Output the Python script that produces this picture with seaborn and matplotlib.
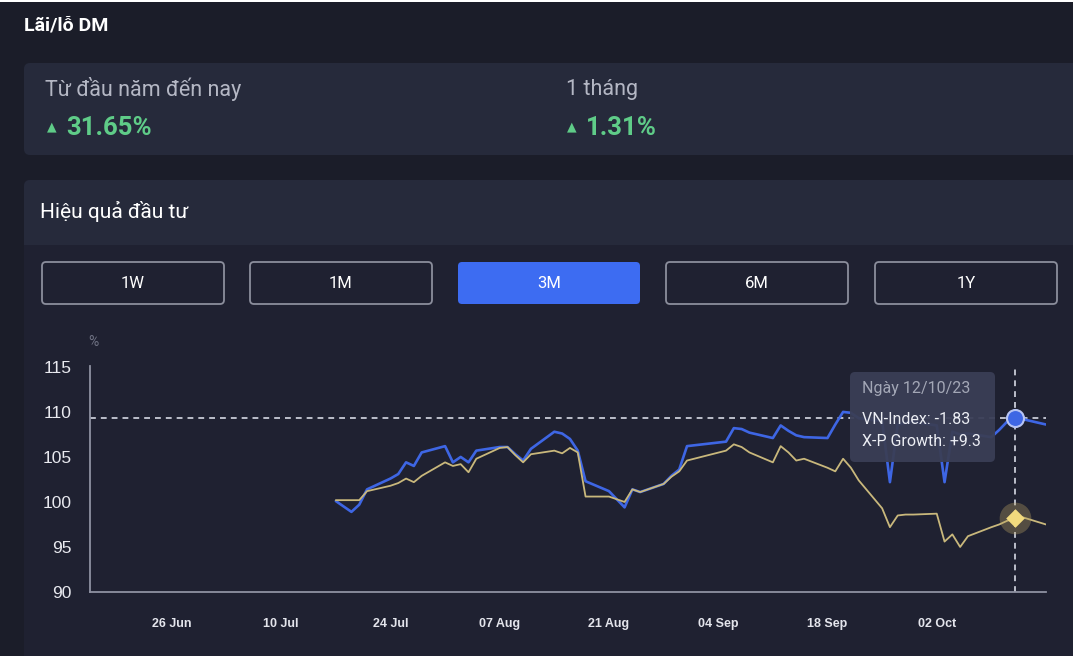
import pandas as pd
import matplotlib
matplotlib.use("Agg")
import matplotlib.pyplot as plt
import matplotlib.transforms as mtransforms
from matplotlib.patches import FancyBboxPatch, Rectangle
import seaborn as sns

# values (index = 100 at start)
dates = [
    "2023-07-17", "2023-07-18", "2023-07-19", "2023-07-20", "2023-07-21",
    "2023-07-24", "2023-07-25", "2023-07-26", "2023-07-27", "2023-07-28",
    "2023-07-31", "2023-08-01", "2023-08-02", "2023-08-03", "2023-08-04",
    "2023-08-07", "2023-08-08", "2023-08-09", "2023-08-10", "2023-08-11",
    "2023-08-14", "2023-08-15", "2023-08-16", "2023-08-17", "2023-08-18",
    "2023-08-21", "2023-08-22", "2023-08-23", "2023-08-24", "2023-08-25",
    "2023-08-28", "2023-08-29", "2023-08-30", "2023-08-31",
    "2023-09-05", "2023-09-06", "2023-09-07", "2023-09-08",
    "2023-09-11", "2023-09-12", "2023-09-13", "2023-09-14", "2023-09-15",
    "2023-09-18", "2023-09-19", "2023-09-20", "2023-09-21", "2023-09-22",
    "2023-09-25", "2023-09-26", "2023-09-27", "2023-09-28", "2023-09-29",
    "2023-10-02", "2023-10-03", "2023-10-04", "2023-10-05", "2023-10-06",
    "2023-10-09", "2023-10-10", "2023-10-11", "2023-10-12", "2023-10-13",
    "2023-10-16",
]
xp_growth = [
    100.1, 99.5, 98.9, 99.7, 101.4,
    102.6, 103.1, 104.4, 104.0, 105.5,
    106.2, 104.4, 105.0, 104.4, 105.7,
    106.1, 106.1, 105.3, 104.6, 105.9,
    107.8, 107.6, 107.0, 105.7, 102.3,
    101.2, 100.3, 99.4, 101.4, 101.1,
    102.0, 102.9, 103.6, 106.2,
    106.7, 108.2, 108.1, 107.7,
    107.1, 108.5, 107.9, 107.4, 107.2,
    107.1, 108.6, 110.0, 109.9, 109.3,
    109.0, 102.2, 108.6, 108.8, 108.9,
    108.5, 102.2, 107.8, 107.5, 107.6,
    107.2, 108.0, 108.9, 109.3, 109.2,
    108.6,
]
vn_index = [
    100.2, 100.2, 100.2, 100.2, 101.2,
    101.8, 102.1, 102.6, 102.2, 102.9,
    104.4, 104.0, 104.2, 103.3, 104.8,
    106.0, 106.1, 105.2, 104.4, 105.3,
    105.7, 105.4, 106.0, 105.5, 100.6,
    100.6, 100.3, 100.0, 101.4, 101.1,
    102.0, 102.8, 103.4, 104.6,
    105.7, 106.4, 106.1, 105.5,
    104.4, 106.2, 105.5, 104.6, 104.8,
    103.8, 103.4, 104.8, 103.8, 102.4,
    99.3, 97.2, 98.5, 98.6, 98.6,
    98.7, 95.6, 96.4, 95.0, 96.2,
    97.2, 97.5, 97.9, 98.17, 98.3,
    97.5,
]

y_ticks = [90, 95, 100, 105, 110, 115]
x_tick_start = "2023-06-26"
periods = ["1W", "1M", "3M", "6M", "1Y"]
active_period = "3M"
ytd_change = "31.65%"
month_change = "1.31%"
focus_date = "2023-10-12"

BG = "#1b1d29"
PANEL = "#262a3b"
CHART_BG = "#1f2131"
BLUE = "#3e66e4"
GOLD = "#c9b87c"
GREEN = "#5fcc88"
MUTED = "#b4b7c4"
AXIS = "#8e91a1"

sns.set_theme(style="dark")
plt.rcParams["font.family"] = ["Roboto", "DejaVu Sans"]

W, H = 1076, 656
fig = plt.figure(figsize=(W / 100, H / 100), dpi=100, facecolor=BG)
# pixel coordinates, origin top-left
T = mtransforms.Affine2D().scale(1 / W, -1 / H).translate(0, 1) + fig.transFigure


def rbox(x0, y0, x1, y1, fc, ec="none", lw=0, r=6, z=-1, alpha=1):
    fig.add_artist(FancyBboxPatch((x0, y0), x1 - x0, y1 - y0,
                                  boxstyle=f"round,pad=0,rounding_size={r}",
                                  transform=T, fc=fc, ec=ec, lw=lw, zorder=z, alpha=alpha))


def label(x, y, s, size, color="white", weight="normal", ha="left", z=3, **kw):
    fig.text(x, y, s, transform=T, fontsize=size, color=color, fontweight=weight,
             ha=ha, va="center", zorder=z, **kw)


# header
label(24, 25, "Lãi/lỗ DM", 14, weight="bold")

# summary card
rbox(24, 63, 1090, 155, PANEL)
label(45, 89, "Từ đầu năm đến nay", 15.5, color=MUTED)
label(47, 127, "▲", 9, color=GREEN, family=["DejaVu Sans"])
label(66, 128, ytd_change, 18.5, color=GREEN, weight="bold")
label(566, 89, "1 tháng", 15.5, color=MUTED)
label(567, 127, "▲", 9, color=GREEN, family=["DejaVu Sans"])
label(586, 128, month_change, 18.5, color=GREEN, weight="bold")

# performance card
rbox(24, 180, 1090, 700, CHART_BG)
rbox(24, 180, 1090, 260, PANEL, z=-0.9)
fig.add_artist(Rectangle((24, 245), 1066, 20, transform=T, fc=CHART_BG, ec="none", zorder=-0.8))
label(40, 211, "Hiệu quả đầu tư", 15)

# period buttons
btn_x = [42, 250, 458, 666, 875]
for bx, p in zip(btn_x, periods):
    if p == active_period:
        rbox(bx, 262, bx + 182, 304, "#3d6cf2", r=4, z=1)
    else:
        rbox(bx, 262, bx + 182, 304, "none", ec="#8b8e9c", lw=1.3, r=4, z=1)
    label(bx + 91, 283, p, 12, ha="center")

# chart
df = pd.DataFrame({"date": pd.to_datetime(dates), "X-P Growth": xp_growth, "VN-Index": vn_index})
ax = fig.add_axes([90 / W, 1 - 592 / H, (1046 - 90) / W, (592 - 366) / H])
ax.set_facecolor("none")
sns.lineplot(data=df, x="date", y="X-P Growth", color=BLUE, linewidth=1.9, ax=ax)
sns.lineplot(data=df, x="date", y="VN-Index", color=GOLD, linewidth=1.3, ax=ax)

t0 = pd.Timestamp(x_tick_start)
ax.set_xlim(t0 - pd.Timedelta(days=10.5), t0 + pd.Timedelta(days=112))
ax.set_ylim(90, 115.1)
ax.set_yticks(y_ticks)
xt = pd.date_range(t0, periods=8, freq="14D")
ax.set_xticks(xt)
ax.set_xticklabels([d.strftime("%d %b") for d in xt], fontsize=9, fontweight="bold",
                   color="#e4e5ec", family=["Liberation Sans Narrow", "Liberation Sans"])
ax.set_yticklabels([str(v) for v in y_ticks], fontsize=12.5, color="#e8e9ef",
                   family=["Liberation Sans", "DejaVu Sans"])
ax.tick_params(axis="x", length=0, pad=19)
ax.tick_params(axis="y", length=0, pad=13)
ax.set_xlabel("")
ax.set_ylabel("")
ax.grid(False)
for side in ["top", "right"]:
    ax.spines[side].set_visible(False)
for side in ["left", "bottom"]:
    ax.spines[side].set_visible(True)
    ax.spines[side].set_color(AXIS)
    ax.spines[side].set_linewidth(1.3)
label(88, 342, "%", 10, color="#6f7283")

# hover crosshair + markers on the focused day
fd = pd.Timestamp(focus_date)
row = df[df["date"] == fd].iloc[0]
ax.axhline(row["X-P Growth"], color="#d6d9e4", lw=1.2, ls=(0, (3.5, 3)), zorder=1)
ax.axvline(fd, color="#d6d9e4", lw=1.2, ls=(0, (3.5, 3)), zorder=1)
ax.scatter([fd], [row["X-P Growth"]], s=150, color=BLUE, edgecolor="#b7c4f4", linewidth=1.5, zorder=5)
ax.scatter([fd], [row["VN-Index"]], s=520, marker="o", color="#b8a262", alpha=0.35, linewidth=0, zorder=5)
ax.scatter([fd], [row["VN-Index"]], s=90, marker="D", color="#f2da7e", linewidth=0, zorder=6)

# tooltip
rbox(850, 372, 995, 462, "#3a3e56", r=5, z=5, alpha=0.95)
label(862, 388, "Ngày " + fd.strftime("%d/%m/%y"), 11.5, color="#a3a7b6", z=6)
label(862, 419, f"VN-Index: {row['VN-Index'] - 100:+.2f}", 11.5, color="#eceef4", z=6)
label(862, 442, f"X-P Growth: {row['X-P Growth'] - 100:+.1f}", 11.5, color="#eceef4", z=6)

# screenshot frame
fig.add_artist(Rectangle((1073, 0), 4, H, transform=T, fc="white", ec="none", zorder=10))
fig.add_artist(Rectangle((0, 0), W, 2, transform=T, fc="white", ec="none", zorder=10))

fig.savefig("out.png", dpi=100, facecolor=BG)
plt.close(fig)
